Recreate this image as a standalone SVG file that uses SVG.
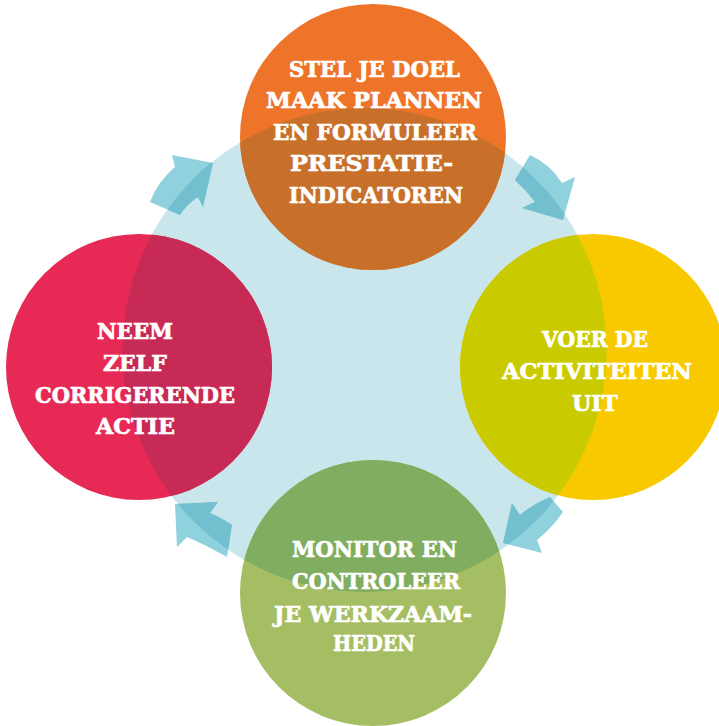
<svg xmlns="http://www.w3.org/2000/svg" width="719" height="726" viewBox="0 0 719 726">
<style>
.t{font-family:"DejaVu Serif","Liberation Serif",serif;font-weight:bold;font-size:22.5px;fill:#ffffff;stroke:#ffffff;stroke-width:0.7px;text-anchor:middle}
.arr{fill:#8FD1DD}
.arrd{fill:#72BFCF}
</style>
<defs>
<clipPath id="big"><circle cx="364.5" cy="350" r="242"/></clipPath>
<path id="a1" d="M150,202 Q158,181 175,167 L172,155 L213,163 L203,207 L198,197 Q187,204 180,215 Z"/>
<path id="a2" d="M530,155 Q550,164 562,183 L575,177 L563,220 L522,208 L535,202 Q526,190 515,180 Z"/>
<path id="a3" d="M550,497 Q533,504 520,515 L512,503 L503,543 L542,553 L537,540 Q552,528 563,512 Z"/>
<path id="a4" d="M232,525 Q220,517 210,513 L218,502 L175,504 L177,547 L187,537 Q206,545 227,557 Z"/>
</defs>
<rect width="719" height="726" fill="#ffffff"/>
<circle id="cycle" cx="364.5" cy="350" r="242" fill="#C9E6EC"/>
<g id="connectors">
<use href="#a1" class="arr"/>
<use href="#a2" class="arr"/>
<use href="#a3" class="arr"/>
<use href="#a4" class="arr"/>
<g clip-path="url(#big)">
<use href="#a1" class="arrd"/>
<use href="#a2" class="arrd"/>
<use href="#a3" class="arrd"/>
<use href="#a4" class="arrd"/>
</g>
</g>
<g id="node-doel">
<circle cx="373" cy="137" r="133" fill="#EE7429"/>
<circle cx="373" cy="137" r="133" fill="#C87029" clip-path="url(#big)"/>
<text class="t" x="374.5" y="77" textLength="171" lengthAdjust="spacingAndGlyphs">STEL JE DOEL</text>
<text class="t" x="374" y="108" textLength="216" lengthAdjust="spacingAndGlyphs">MAAK PLANNEN</text>
<text class="t" x="375" y="140" textLength="204" lengthAdjust="spacingAndGlyphs">EN FORMULEER</text>
<text class="t" x="371.5" y="171" textLength="163" lengthAdjust="spacingAndGlyphs">PRESTATIE-</text>
<text class="t" x="376" y="203" textLength="174" lengthAdjust="spacingAndGlyphs">INDICATOREN</text>
</g>
<g id="node-uitvoeren">
<circle cx="593" cy="367" r="133" fill="#F9C900"/>
<circle cx="593" cy="367" r="133" fill="#C9CB00" clip-path="url(#big)"/>
<text class="t" x="595" y="347" textLength="106" lengthAdjust="spacingAndGlyphs">VOER DE</text>
<text class="t" x="597" y="379" textLength="190" lengthAdjust="spacingAndGlyphs">ACTIVITEITEN</text>
<text class="t" x="595" y="411" textLength="46" lengthAdjust="spacingAndGlyphs">UIT</text>
</g>
<g id="node-monitor">
<circle cx="373" cy="593" r="133" fill="#A6BE63"/>
<circle cx="373" cy="593" r="133" fill="#80AD5F" clip-path="url(#big)"/>
<text class="t" x="374.5" y="557" textLength="165" lengthAdjust="spacingAndGlyphs">MONITOR EN</text>
<text class="t" x="376" y="589" textLength="168" lengthAdjust="spacingAndGlyphs">CONTROLEER</text>
<text class="t" x="373" y="622" textLength="198" lengthAdjust="spacingAndGlyphs">JE WERKZAAM-</text>
<text class="t" x="374" y="651" textLength="82" lengthAdjust="spacingAndGlyphs">HEDEN</text>
</g>
<g id="node-corrigeer">
<circle cx="139" cy="367" r="133" fill="#E72A55"/>
<circle cx="139" cy="367" r="133" fill="#C72A55" clip-path="url(#big)"/>
<text class="t" x="135" y="339" textLength="76" lengthAdjust="spacingAndGlyphs">NEEM</text>
<text class="t" x="135" y="371" textLength="64" lengthAdjust="spacingAndGlyphs">ZELF</text>
<text class="t" x="135" y="403" textLength="200" lengthAdjust="spacingAndGlyphs">CORRIGERENDE</text>
<text class="t" x="135.5" y="434" textLength="79" lengthAdjust="spacingAndGlyphs">ACTIE</text>
</g>
</svg>
